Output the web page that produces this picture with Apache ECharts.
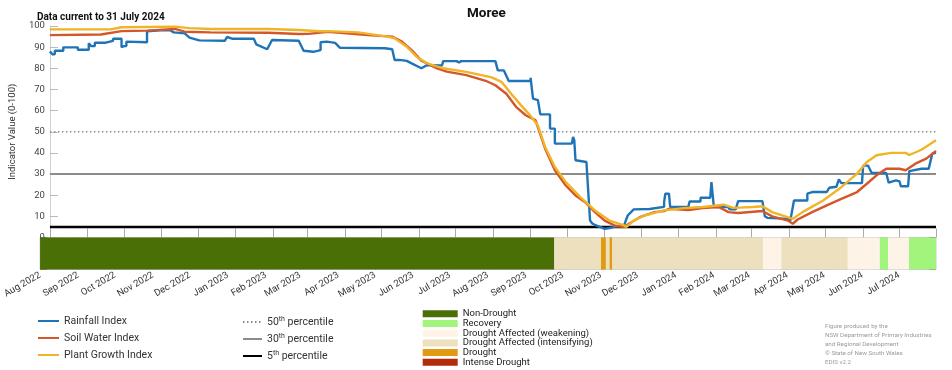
<!DOCTYPE html>
<html><head><meta charset="utf-8">
<script src="https://cdn.jsdelivr.net/npm/echarts@6/dist/echarts.min.js"></script>
<style>html,body{margin:0;padding:0;background:#fff}#c{width:952px;height:370px}</style>
</head><body><div id="c"></div>
<script>
const monthNames = ['Jan','Feb','Mar','Apr','May','Jun','Jul','Aug','Sep','Oct','Nov','Dec'];
const axisStart = '2022-08-01';
const axisEnd = '2024-07-31';

const rainfallIndex = [
 ['2022-08-01',88],['2022-08-03',86.6],['2022-08-05',86.6],['2022-08-05',88.3],['2022-08-12',88.3],['2022-08-12',89.9],
 ['2022-08-24',89.9],['2022-08-24',88.8],['2022-09-02',88.8],['2022-09-02',91.8],['2022-09-04',90.5],['2022-09-07',90.5],
 ['2022-09-07',92.1],['2022-09-16',92.1],['2022-09-16',93],['2022-09-22',93],['2022-09-22',94],['2022-09-29',94],
 ['2022-09-29',90],['2022-10-01',90.5],['2022-10-03',90.5],['2022-10-03',92.6],['2022-10-20',92.3],['2022-10-20',97.5],
 ['2022-10-31',98],['2022-11-08',98],['2022-11-11',97],['2022-11-20',96.5],['2022-11-20',96],['2022-11-24',94.5],
 ['2022-12-02',93.2],['2022-12-23',93],['2022-12-25',94.8],['2022-12-29',94],['2023-01-16',94],['2023-01-18',91.3],
 ['2023-01-27',89],['2023-01-31',93.4],['2023-02-22',93],['2023-02-26',88.3],['2023-03-06',87.8],['2023-03-12',88.6],
 ['2023-03-12',92.3],['2023-03-17',92.6],['2023-03-24',92],['2023-03-28',89.7],['2023-05-04',89.5],['2023-05-10',89],
 ['2023-05-12',83.9],['2023-05-16',84],['2023-05-22',83.5],['2023-05-26',82.3],['2023-06-03',80],['2023-06-06',81],
 ['2023-06-08',81.5],['2023-06-20',81.3],['2023-06-21',83.4],['2023-07-02',83.4],['2023-07-04',82.8],['2023-07-06',83.4],
 ['2023-08-03',83.4],['2023-08-05',79],['2023-08-10',79],['2023-08-14',74],['2023-09-01',74],['2023-09-01',75.5],
 ['2023-09-03',65.7],['2023-09-07',65],['2023-09-09',58.2],['2023-09-17',58.2],['2023-09-17',51.5],['2023-09-21',51.5],
 ['2023-09-21',44.4],['2023-10-05',44.4],['2023-10-06',47.5],['2023-10-07',46],['2023-10-08',36.5],['2023-10-17',35.7],
 ['2023-10-20',8],['2023-10-22',6.5],['2023-10-26',5.5],['2023-11-01',4.1],['2023-11-05',4.5],['2023-11-09',5],
 ['2023-11-17',5.7],['2023-11-20',10.4],['2023-11-25',13.3],['2023-12-08',13.5],['2023-12-09',14.4],['2023-12-20',14.5],
 ['2023-12-20',16.7],['2023-12-21',20.7],['2023-12-24',20.7],['2023-12-25',14.5],['2024-01-09',14.5],['2024-01-10',17],
 ['2024-01-19',17],['2024-01-19',18.8],['2024-01-27',18.8],['2024-01-28',26.2],['2024-01-30',14.4],['2024-02-11',14.4],
 ['2024-02-12',13.3],['2024-02-17',13.3],['2024-02-19',17.2],['2024-03-10',17.2],['2024-03-12',10],['2024-03-14',9.3],
 ['2024-03-31',8.8],['2024-04-02',8],['2024-04-05',17.5],['2024-04-16',17.5],['2024-04-16',20.7],['2024-04-20',21.5],
 ['2024-05-02',21.5],['2024-05-04',23.5],['2024-05-10',24],['2024-05-12',27.5],['2024-05-14',25.7],['2024-05-31',25.7],
 ['2024-06-01',34],['2024-06-05',34],['2024-06-08',30.5],['2024-06-20',30.5],['2024-06-22',25.9],['2024-06-28',27],
 ['2024-07-01',26.5],['2024-07-02',24.2],['2024-07-08',24.2],['2024-07-09',31.4],['2024-07-19',32.5],['2024-07-25',32.5],
 ['2024-07-28',39.7],['2024-07-31',40]
];
const soilWaterIndex = [
 ['2022-08-01',95.7],['2022-09-12',96],['2022-09-29',97.6],['2022-10-20',97.8],['2022-11-12',98.6],['2022-11-20',97.3],
 ['2022-12-11',97],['2023-01-28',96.8],['2023-02-22',96.2],['2023-03-02',96.3],['2023-03-18',97.2],['2023-04-20',95.7],
 ['2023-05-10',95],['2023-05-18',92.6],['2023-05-26',88.6],['2023-06-03',83.6],['2023-06-16',80],['2023-06-24',78.4],
 ['2023-07-10',76.8],['2023-07-26',74.1],['2023-08-03',72],['2023-08-12',68],['2023-08-20',61.8],['2023-08-28',57.8],
 ['2023-09-05',55.5],['2023-09-13',42],['2023-09-21',31.8],['2023-09-30',24.6],['2023-10-08',19.9],['2023-10-16',16.7],
 ['2023-10-24',12],['2023-11-01',8],['2023-11-09',5.7],['2023-11-17',4.9],['2023-11-21',6.5],['2023-11-30',9.6],
 ['2023-12-12',12],['2023-12-20',12.5],['2023-12-24',13.6],['2024-01-09',13],['2024-01-21',13.9],['2024-02-03',14.4],
 ['2024-02-11',12],['2024-02-19',11.6],['2024-03-10',12.5],['2024-03-18',10],['2024-03-31',8],['2024-04-04',6.5],
 ['2024-04-08',8.5],['2024-04-20',12],['2024-05-02',15.2],['2024-05-14',18.3],['2024-05-27',21.5],['2024-06-04',25.4],
 ['2024-06-12',29.4],['2024-06-20',32.5],['2024-07-01',32.5],['2024-07-06',31.8],['2024-07-14',34.9],['2024-07-23',37.3],
 ['2024-07-31',40.9]
];
const plantGrowthIndex = [
 ['2022-08-01',98.4],['2022-09-20',98.4],['2022-09-29',99.4],['2022-11-12',99.7],['2022-11-24',99],['2022-12-11',98.6],
 ['2023-01-28',98.6],['2023-02-22',98.1],['2023-03-11',97.5],['2023-03-18',97.6],['2023-04-12',97],['2023-05-06',95],
 ['2023-05-12',94.2],['2023-05-22',90.2],['2023-05-30',85.5],['2023-06-08',82.3],['2023-06-21',80],['2023-07-10',78.3],
 ['2023-07-31',75.7],['2023-08-08',73.6],['2023-08-16',68],['2023-08-24',62.6],['2023-09-01',57.5],['2023-09-07',53],
 ['2023-09-13',42.8],['2023-09-21',33.3],['2023-09-30',26.2],['2023-10-12',19.1],['2023-10-24',12.8],['2023-11-05',8],
 ['2023-11-17',5.7],['2023-11-19',5],['2023-11-25',8],['2023-12-04',10.4],['2023-12-20',12.8],['2024-01-05',13.9],
 ['2024-01-21',14.4],['2024-02-07',15.5],['2024-02-15',14],['2024-03-02',14.4],['2024-03-10',14.8],['2024-03-18',12],
 ['2024-04-04',8.8],['2024-04-12',12],['2024-04-29',17.5],['2024-05-14',23.8],['2024-05-27',30.2],['2024-06-04',35.7],
 ['2024-06-12',38.9],['2024-06-24',40],['2024-07-06',40],['2024-07-09',39],['2024-07-19',41.5],['2024-07-31',46]
];

const percentileNames = ['50th percentile','30th percentile','5th percentile'];
const percentileValues = [50, 30, 5];

const droughtClasses = ['Non-Drought','Recovery','Drought Affected (weakening)','Drought Affected (intensifying)','Drought','Intense Drought'];
const droughtStart = ['2022-08-01','2023-09-24','2023-11-01','2023-11-05','2023-11-08','2023-11-10','2024-03-12','2024-03-27','2024-05-20','2024-06-15','2024-06-22','2024-07-09'];
const droughtEnd   = ['2023-09-24','2023-11-01','2023-11-05','2023-11-08','2023-11-10','2024-03-12','2024-03-27','2024-05-20','2024-06-15','2024-06-22','2024-07-09','2024-07-31'];
const droughtClass = [0,3,4,3,4,3,2,3,2,1,2,1];

const footerLines = ['Figure produced by the','NSW Department of Primary Industries','and Regional Development','\u00A9 State of New South Wales','EDIS v2.2'];

const lineColors = ['#1f74b8','#d4572a','#f0b429'];
const droughtColors = ['#4a6f06','#a2f57c','#fdf3e6','#ede0bf','#e29a12','#b32a0c'];

function toTime(s){ const p = s.split('-').map(Number); return new Date(p[0], p[1]-1, p[2]).getTime(); }

const chart = echarts.init(document.getElementById('c'), null, {renderer:'canvas'});
const FONT = 'Roboto';
const indexSeries = [['Rainfall Index', rainfallIndex], ['Soil Water Index', soilWaterIndex], ['Plant Growth Index', plantGrowthIndex]].map((s,i)=>({
  type:'line', name:s[0], xAxisIndex:0, yAxisIndex:0, symbol:'none', showSymbol:false, z:5+i,
  data: s[1].map(p=>[toTime(p[0]), p[1]]),
  lineStyle:{width:2.4, color:lineColors[i]}, itemStyle:{color:lineColors[i]}, animation:false
}));
const pctStyles = [{color:'#8a8a8a', width:1.6, type:[1.5,2.5]}, {color:'#8c8c8c', width:2}, {color:'#000', width:2.5}];
const pctSeries = percentileNames.map((n,i)=>({
  type:'line', name:n, xAxisIndex:0, yAxisIndex:0, symbol:'none', showSymbol:false, z:2,
  data: [[toTime(axisStart), percentileValues[i]], [toTime(axisEnd), percentileValues[i]]],
  lineStyle: pctStyles[i], itemStyle:{color:pctStyles[i].color}, animation:false
}));
const droughtSeries = droughtClasses.map((n,ci)=>({
  type:'custom', name:n, xAxisIndex:1, yAxisIndex:1, z:3,
  itemStyle:{color:droughtColors[ci]},
  dimensions:['start','end'], encode:{x:[0,1]},
  data: droughtClass.map((c,k)=>c===ci?[toTime(droughtStart[k]), toTime(droughtEnd[k])]:null).filter(d=>d),
  renderItem:function(params, api){
    const a = api.coord([api.value(0), 1]);
    const b = api.coord([api.value(1), 0]);
    return {type:'rect', shape:{x:a[0], y:a[1], width:b[0]-a[0], height:b[1]-a[1]}, style:{fill:api.visual('color')}};
  },
  animation:false
}));

const monthFormatter = v => { const d = new Date(v); return monthNames[d.getMonth()] + ' ' + d.getFullYear(); };

const option = {
  backgroundColor:'#fff',
  animation:false,
  textStyle:{fontFamily:FONT},
  title:[
    {text:'Moree', left:467, top:7, padding:0, textStyle:{fontSize:13.5, fontWeight:'bold', color:'#111', fontFamily:FONT}},
    {text:'Data current to 31 July 2024', left:37, top:12, padding:0, textStyle:{fontSize:10, fontWeight:'bold', color:'#111', fontFamily:FONT}},
    {text:footerLines.join('\n'), left:825, top:322, padding:0, textStyle:{fontSize:6.2, lineHeight:9, fontWeight:'normal', color:'#9a9a9a', fontFamily:FONT}}
  ],
  grid:[
    {left:38, right:16, top:26, height:211.5},
    {left:38, right:16, top:237.5, height:32, show:true, borderColor:'#c8c8c8', borderWidth:1, backgroundColor:'transparent'}
  ],
  xAxis:[
    {type:'time', gridIndex:0, min:toTime(axisStart), max:toTime(axisEnd), splitNumber:24,
     axisLine:{show:false}, axisLabel:{show:false}, splitLine:{show:false},
     axisTick:{show:true, inside:true, length:9, lineStyle:{color:'#aaa'}}},
    {type:'time', gridIndex:1, min:toTime(axisStart), max:toTime(axisEnd), splitNumber:24,
     axisLine:{show:false}, splitLine:{show:false},
     axisTick:{show:true, inside:true, length:32, lineStyle:{color:'rgba(40,40,40,0.3)'}},
     axisLabel:{show:true, rotate:30, fontSize:9.5, color:'#333', margin:5, hideOverlap:false, formatter:monthFormatter, fontFamily:FONT}}
  ],
  yAxis:[
    {type:'value', gridIndex:0, min:0, max:100, interval:10,
     name:'Indicator Value (0-100)', nameLocation:'middle', nameGap:28,
     nameTextStyle:{fontSize:9.5, color:'#333', fontFamily:FONT},
     axisLine:{show:true, lineStyle:{color:'#d0d0d0'}},
     axisTick:{show:true, inside:true, length:8, lineStyle:{color:'#bbb'}},
     axisLabel:{fontSize:9.5, color:'#444', margin:5, fontFamily:FONT}, splitLine:{show:false}},
    {type:'value', gridIndex:1, min:0, max:1, interval:0.5,
     axisLine:{show:false}, axisLabel:{show:false}, splitLine:{show:false},
     axisTick:{show:true, inside:true, length:7, lineStyle:{color:'rgba(40,40,40,0.4)'}}},
    {type:'value', gridIndex:1, position:'right', min:0, max:1, interval:0.5,
     axisLine:{show:false}, axisLabel:{show:false}, splitLine:{show:false},
     axisTick:{show:true, inside:true, length:7, lineStyle:{color:'rgba(40,40,40,0.4)'}}}
  ],
  legend:[
    {data:['Rainfall Index','Soil Water Index','Plant Growth Index'], orient:'vertical', left:37, top:315, padding:0,
     itemWidth:21, itemHeight:12, itemGap:5, selectedMode:false, itemStyle:{opacity:0},
     textStyle:{fontSize:10.5, color:'#333', lineHeight:12, fontFamily:FONT}},
    {data:percentileNames, orient:'vertical', left:242, top:316, padding:0,
     itemWidth:19, itemHeight:12, itemGap:5, selectedMode:false, itemStyle:{opacity:0},
     formatter: n => n.replace(/^(\d+)th/, '$1{sup|th}'),
     textStyle:{fontSize:10.5, color:'#333', lineHeight:12, fontFamily:FONT,
       rich:{sup:{fontSize:7, color:'#333', verticalAlign:'top', lineHeight:12, padding:[0,0,5,0], fontFamily:FONT}}}},
    {data:droughtClasses, orient:'vertical', left:422.7, top:308.8, height:90, padding:0,
     itemWidth:35, itemHeight:7, itemGap:-0.3, selectedMode:false, icon:'rect',
     textStyle:{fontSize:9.5, color:'#222', fontFamily:FONT}}
  ],
  series:[...droughtSeries, ...pctSeries, ...indexSeries]
};
chart.setOption(option);
</script>
</body></html>
